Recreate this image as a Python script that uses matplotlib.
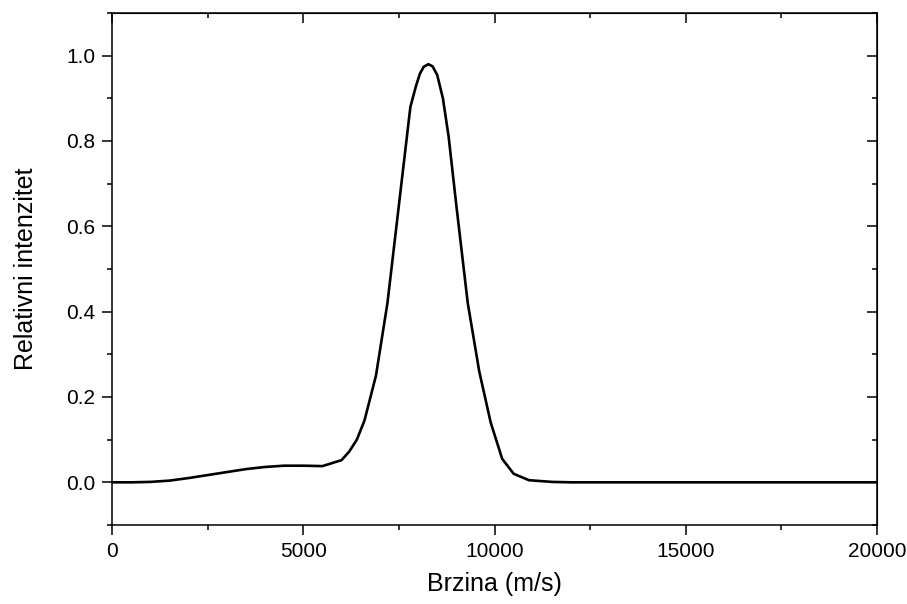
import matplotlib.pyplot as plt
from matplotlib.ticker import MultipleLocator

plt.rcParams['font.family'] = ['Liberation Sans', 'DejaVu Sans']

# velocity (m/s) and relative intensity
brzina = [0, 500, 1000, 1500, 2000, 2500, 3000, 3500, 4000, 4500, 5000,
          5500, 6000, 6200, 6400, 6600, 6900, 7200, 7500, 7800, 7950, 8050,
          8150, 8270, 8380, 8500, 8650, 8800, 9000, 9300, 9600, 9900, 10200,
          10500, 10900, 11500, 12000, 20000]
intenzitet = [0, 0, 0.001, 0.004, 0.010, 0.017, 0.024, 0.031, 0.036, 0.039,
              0.039, 0.038, 0.052, 0.072, 0.10, 0.145, 0.25, 0.42, 0.65,
              0.88, 0.93, 0.958, 0.974, 0.98, 0.975, 0.955, 0.90, 0.81, 0.65,
              0.42, 0.26, 0.14, 0.055, 0.02, 0.005, 0.001, 0, 0]


def main():
    fig = plt.figure(figsize=(9.07, 6.04), dpi=100)
    ax = fig.add_axes([0.1235, 0.1308, 0.8435, 0.8477])

    ax.plot(brzina, intenzitet, color='black', lw=1.9)

    ax.set_xlim(0, 20000)
    ax.set_ylim(-0.1, 1.1)
    ax.xaxis.set_major_locator(MultipleLocator(5000))
    ax.xaxis.set_minor_locator(MultipleLocator(2500))
    ax.yaxis.set_minor_locator(MultipleLocator(0.1))
    ax.set_yticks([0.0, 0.2, 0.4, 0.6, 0.8, 1.0])
    ax.set_yticklabels(['0.0', '0.2', '0.4', '0.6', '0.8', '1.0'])

    for s in ax.spines.values():
        s.set_linewidth(1.1)
    ax.tick_params(which='both', direction='out', width=1.1, labelsize=15, pad=5)
    ax.tick_params(which='major', length=7)
    ax.tick_params(which='minor', length=3.6)

    # mirrored ticks on top and right, pointing inwards
    top = ax.secondary_xaxis('top')
    top.xaxis.set_major_locator(MultipleLocator(5000))
    top.xaxis.set_minor_locator(MultipleLocator(2500))
    top.tick_params(which='both', direction='in', width=1.1, labeltop=False)
    top.tick_params(which='major', length=7)
    top.tick_params(which='minor', length=3.6)
    right = ax.secondary_yaxis('right')
    right.yaxis.set_major_locator(MultipleLocator(0.2))
    right.yaxis.set_minor_locator(MultipleLocator(0.1))
    right.tick_params(which='both', direction='in', width=1.1, labelright=False)
    right.tick_params(which='major', length=7)
    right.tick_params(which='minor', length=3.6)

    ax.set_xlabel('Brzina (m/s)', fontsize=18, labelpad=8)
    ax.set_ylabel('Relativni intenzitet', fontsize=18, labelpad=20)

    fig.savefig('out.png', dpi=100)


if __name__ == '__main__':
    main()
